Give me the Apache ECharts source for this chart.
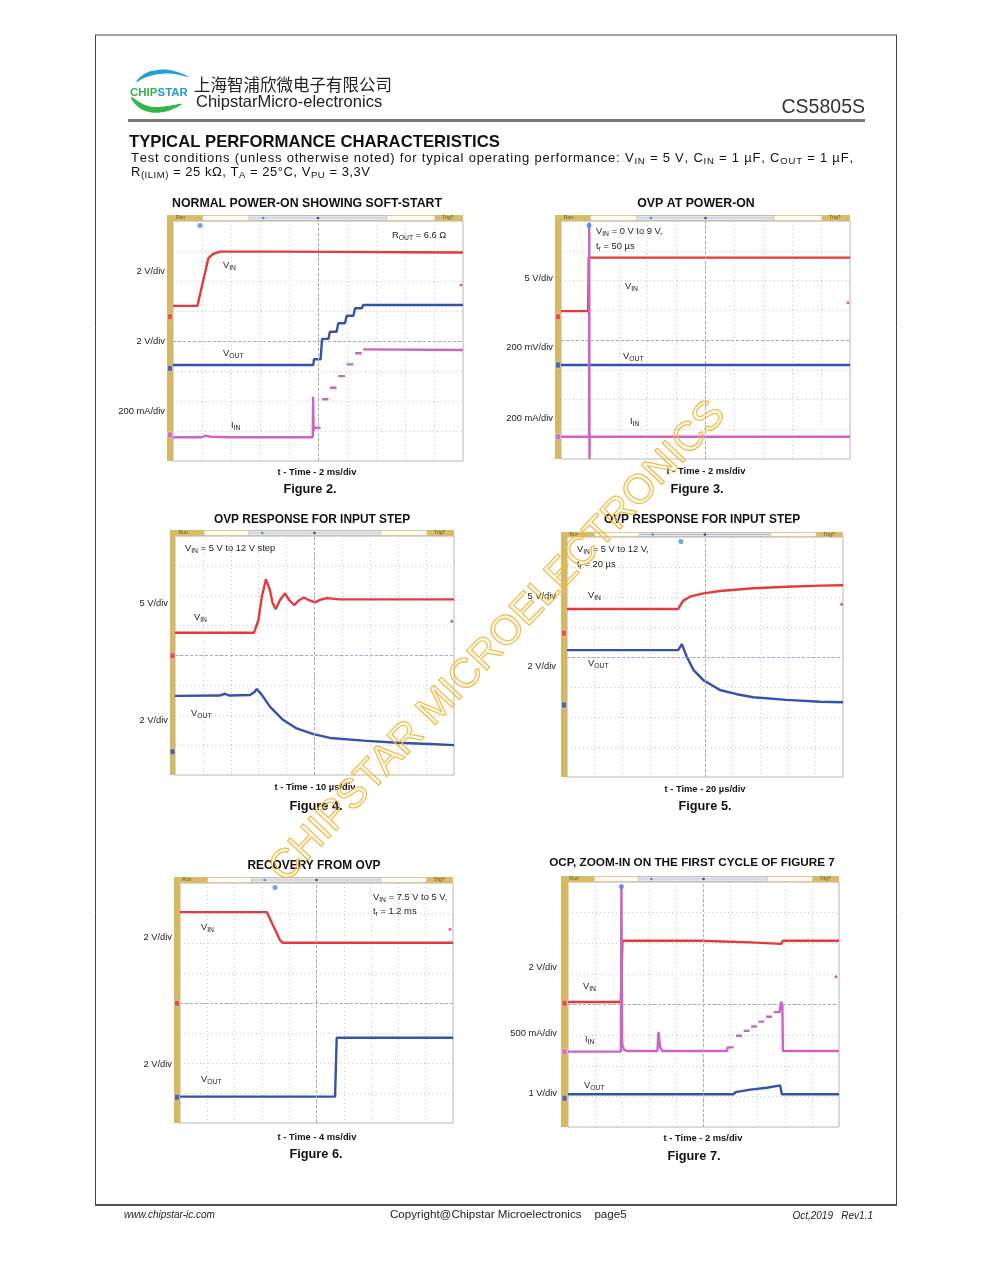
<!DOCTYPE html>
<html><head><meta charset="utf-8">
<script src="https://cdn.jsdelivr.net/npm/echarts@6/dist/echarts.min.js"></script>
<style>html,body{margin:0;padding:0;background:#fff}#c{width:991px;height:1279px}</style>
</head><body><div id="c"></div><script>
// ---------- DATA (x in time divisions 0..10, y in vertical divisions 0..8) ----------
const fig2Vin  = [[0,5.17],[0.84,5.17],[1.22,6.76],[1.38,6.9],[1.62,6.98],[3.5,6.98],[6.0,6.97],[8.0,6.96],[10,6.95]];
const fig2Vout = [[0,3.2],[4.84,3.2],[4.86,3.39],[5.09,3.39],[5.14,4.07],[5.36,4.07],[5.41,4.31],[5.64,4.31],[5.70,4.59],[5.93,4.59],[5.99,4.84],[6.22,4.84],[6.28,5.09],[6.51,5.09],[6.56,5.2],[10,5.2]];
const fig2Iin  = [[0,0.79],[1.0,0.79],[1.1,0.84],[1.3,0.81],[2.0,0.79],[4.82,0.79],[4.83,2.14],[4.85,1.0],[4.88,1.11],[5.09,1.11],[5.11,'-'],[5.14,2.06],[5.36,2.06],[5.38,'-'],[5.41,2.44],[5.64,2.44],[5.66,'-'],[5.70,2.83],[5.93,2.83],[5.95,'-'],[5.99,3.22],[6.22,3.22],[6.25,'-'],[6.28,3.59],[6.51,3.59],[6.53,'-'],[6.56,3.72],[10,3.70]];
const fig2Trig = [[9.93,5.87]];
const fig2Gnd  = [4.81,3.09,0.87];
const fig2TPos = [0.93];
const fig2Scales = ['2 V/div','2 V/div','200 mA/div'];

const fig3Vin  = [[0,4.97],[0.94,4.97],[0.96,6.77],[10,6.77]];
const fig3Vout = [[0,3.16],[10,3.16]];
const fig3Iin  = [[0,0.75],[0.97,0.75],[0.975,7.95],[0.985,0],[0.995,0.75],[10,0.75]];
const fig3Trig = [[9.93,5.25]];
const fig3Gnd  = [4.78,3.16,0.75];
const fig3TPos = [0.97];
const fig3Scales = ['5 V/div','200 mV/div','200 mA/div'];

const fig4Vin  = [[0,4.76],[2.83,4.76],[2.99,5.18],[3.11,5.96],[3.26,6.55],[3.4,6.2],[3.5,5.75],[3.61,5.55],[3.76,5.85],[3.94,6.08],[4.1,5.85],[4.27,5.69],[4.45,5.85],[4.62,5.94],[4.8,5.85],[5.02,5.78],[5.2,5.86],[5.44,5.92],[5.91,5.88],[10,5.88]];
const fig4Vout = [[0,2.65],[1.6,2.66],[1.79,2.72],[1.95,2.66],[2.69,2.68],[2.85,2.78],[2.93,2.88],[3.1,2.7],[3.41,2.28],[3.88,1.84],[4.36,1.56],[4.96,1.37],[5.56,1.24],[6.75,1.15],[7.95,1.08],[9.14,1.04],[10,1.0]];
const fig4Trig = [[9.92,5.15]];
const fig4Gnd  = [3.99,0.78];
const fig4TPos = [];
const fig4Scales = ['5 V/div','2 V/div'];

const fig5Vin  = [[0,5.6],[4.03,5.6],[4.09,5.7],[4.21,5.88],[4.46,6.01],[4.94,6.12],[5.54,6.2],[6.75,6.29],[7.96,6.34],[9.17,6.38],[10,6.39]];
const fig5Vout = [[0,4.23],[4.03,4.23],[4.16,4.43],[4.34,4.01],[4.58,3.57],[4.94,3.23],[5.54,2.9],[6.15,2.76],[6.75,2.66],[7.96,2.57],[9.17,2.51],[10,2.49]];
const fig5Trig = [[9.95,5.76]];
const fig5Gnd  = [4.79,2.4];
const fig5TPos = [4.13];
const fig5Scales = ['5 V/div','2 V/div'];

const fig6Vin  = [[0,7.03],[3.18,7.03],[3.66,6.1],[3.76,6.01],[10,6.01]];
const fig6Vout = [[0,0.88],[5.68,0.88],[5.74,2.84],[10,2.84]];
const fig6Trig = [[9.89,6.46]];
const fig6Gnd  = [3.99,0.86];
const fig6TPos = [3.48];
const fig6Scales = ['2 V/div','2 V/div'];

const fig7Vin  = [[0,4.08],[1.95,4.08],[2.01,6.08],[4.89,6.08],[6.73,6.03],[7.87,5.98],[7.93,6.08],[10,6.08]];
const fig7Iin  = [[0,2.46],[1.95,2.46],[1.97,7.9],[2.0,2.7],[2.07,2.52],[2.2,2.48],[3.30,2.48],[3.34,3.11],[3.40,2.6],[3.49,2.48],[5.87,2.48],[5.89,2.6],[6.11,2.6],[6.15,'-'],[6.20,2.98],[6.42,2.98],[6.45,'-'],[6.48,3.14],[6.70,3.14],[6.73,'-'],[6.76,3.28],[6.97,3.28],[7.0,'-'],[7.03,3.44],[7.24,3.44],[7.27,'-'],[7.31,3.60],[7.53,3.60],[7.56,'-'],[7.59,3.75],[7.81,3.75],[7.86,4.09],[7.91,4.0],[7.93,2.48],[10,2.48]];
const fig7Vout = [[0,1.07],[6.11,1.07],[6.18,1.14],[6.73,1.22],[7.34,1.28],[7.83,1.36],[7.89,1.07],[10,1.07]];
const fig7Trig = [[9.89,4.91]];
const fig7Gnd  = [4.04,2.46,0.94];
const fig7TPos = [1.97];
const fig7Scales = ['2 V/div','500 mA/div','1 V/div'];

const condLine1 = ['Test','conditions','(unless','otherwise','noted)','for','typical','operating','performance:','{m|V}{s|IN}','=','5','V,','{m|C}{s|IN}','=','1','µF,','{m|C}{s|OUT}','=','1','µF,'];
const condLine2 = ['{m|R}{s|(ILIM)}','=','25','kΩ,','{m|T}{s|A}','=','25°C,','{m|V}{s|PU}','=','3,3V'];

// ---------- STYLE / LAYOUT ----------
const RED='#e6393a', BLUE='#3254a8', PINK='#c865c6', TBLUE='#4a8fd8';
function hasFont(name){
  const c=document.createElement('canvas').getContext('2d');
  const s='abcdefghijklmnopqrstuvwxyz ABCDEFGHIJ 0123456789';
  c.font='20px monospace'; const a=c.measureText(s).width;
  c.font='20px "'+name+'", monospace'; const b=c.measureText(s).width;
  return Math.abs(a-b)>0.5;
}
const NARROW = hasFont('Liberation Sans Narrow');
const FF = NARROW ? '"Liberation Sans Narrow","Liberation Sans",Arial,sans-serif' : '"Liberation Sans",Arial,sans-serif';
const K = NARROW ? 1 : 0.85;
const BODY = '"Liberation Sans",Arial,sans-serif';

const figs = [
 {title:'NORMAL POWER-ON SHOWING SOFT-START', tSize:14.5, titleXY:[307,204], time:'t - Time - 2 ms/div', timeXY:[317,472], name:'Figure 2.', nameXY:[310,489],
  box:[167,215,463,461], plot:[173,221,463,461],
  traces:[{d:fig2Vin,c:RED},{d:fig2Vout,c:BLUE},{d:fig2Iin,c:PINK}], trig:fig2Trig, gnd:fig2Gnd, tpos:fig2TPos,
  scales:fig2Scales, scaleX:165, scaleY:[271,341,411],
  labels:[{t:'{m|V}{s|IN}',x:223,y:265},{t:'{m|V}{s|OUT}',x:223,y:353},{t:'{m|I}{s|IN}',x:231,y:425},{t:'{m|R}{s|OUT}{m| = 6.6 Ω}',x:392,y:235}]},
 {title:'OVP AT POWER-ON', tSize:14.5, titleXY:[696,204], time:'t - Time - 2 ms/div', timeXY:[706,471], name:'Figure 3.', nameXY:[697,489],
  box:[555,215,850,459], plot:[561,221,850,459],
  traces:[{d:fig3Vin,c:RED},{d:fig3Vout,c:BLUE},{d:fig3Iin,c:PINK}], trig:fig3Trig, gnd:fig3Gnd, tpos:fig3TPos,
  scales:fig3Scales, scaleX:553, scaleY:[278,347,418],
  labels:[{t:'{m|V}{s|IN}{m| = 0 V to 9 V,}',x:596,y:231},{t:'{m|t}{s|r}{m| = 50 µs}',x:596,y:246},{t:'{m|V}{s|IN}',x:625,y:286},{t:'{m|V}{s|OUT}',x:623,y:356},{t:'{m|I}{s|IN}',x:630,y:421}]},
 {title:'OVP RESPONSE FOR INPUT STEP', tSize:14, titleXY:[312,520], time:'t - Time - 10 µs/div', timeXY:[315,787], name:'Figure 4.', nameXY:[316,806],
  box:[170,530,454,775], plot:[175,536,454,775],
  traces:[{d:fig4Vin,c:RED},{d:fig4Vout,c:BLUE}], trig:fig4Trig, gnd:fig4Gnd, tpos:fig4TPos,
  scales:fig4Scales, scaleX:168, scaleY:[603,720],
  labels:[{t:'{m|V}{s|IN}{m| = 5 V to 12 V step}',x:185,y:548},{t:'{m|V}{s|IN}',x:194,y:617},{t:'{m|V}{s|OUT}',x:191,y:713}]},
 {title:'OVP RESPONSE FOR INPUT STEP', tSize:14, titleXY:[702,520], time:'t - Time - 20 µs/div', timeXY:[705,789], name:'Figure 5.', nameXY:[705,806],
  box:[561,532,843,777], plot:[567,537,843,777],
  traces:[{d:fig5Vin,c:RED},{d:fig5Vout,c:BLUE}], trig:fig5Trig, gnd:fig5Gnd, tpos:fig5TPos,
  scales:fig5Scales, scaleX:556, scaleY:[596,666],
  labels:[{t:'{m|V}{s|IN}{m| = 5 V to 12 V,}',x:577,y:549},{t:'{m|t}{s|r}{m| = 20 µs}',x:577,y:564},{t:'{m|V}{s|IN}',x:588,y:595},{t:'{m|V}{s|OUT}',x:588,y:663}]},
 {title:'RECOVERY FROM OVP', tSize:14, titleXY:[314,866], time:'t - Time - 4 ms/div', timeXY:[317,1137], name:'Figure 6.', nameXY:[316,1154],
  box:[174,877,453,1123], plot:[180,883,453,1123],
  traces:[{d:fig6Vin,c:RED},{d:fig6Vout,c:BLUE}], trig:fig6Trig, gnd:fig6Gnd, tpos:fig6TPos,
  scales:fig6Scales, scaleX:172, scaleY:[937,1064],
  labels:[{t:'{m|V}{s|IN}{m| = 7.5 V to 5 V,}',x:373,y:897},{t:'{m|t}{s|r}{m| = 1.2 ms}',x:373,y:911},{t:'{m|V}{s|IN}',x:201,y:927},{t:'{m|V}{s|OUT}',x:201,y:1079}]},
 {title:'OCP, ZOOM-IN ON THE FIRST CYCLE OF FIGURE 7', tSize:13.8, titleXY:[692,863], time:'t - Time - 2 ms/div', timeXY:[703,1138], name:'Figure 7.', nameXY:[694,1156],
  box:[561,876,839,1127], plot:[568,882,839,1127],
  traces:[{d:fig7Vin,c:RED},{d:fig7Iin,c:PINK},{d:fig7Vout,c:BLUE}], trig:fig7Trig, gnd:fig7Gnd, tpos:fig7TPos,
  scales:fig7Scales, scaleX:557, scaleY:[967,1033,1093],
  labels:[{t:'{m|V}{s|IN}',x:583,y:986},{t:'{m|I}{s|IN}',x:585,y:1039},{t:'{m|V}{s|OUT}',x:584,y:1085}]}
];

const richFig = {
  m:{fontSize:11*K, fontFamily:FF, fill:'#222', lineHeight:12},
  s:{fontSize:8*K, fontFamily:FF, fill:'#222', lineHeight:8, padding:[6,0,0,0]}
};

function chrome(f){
  const [x0,y0,x1,y1]=f.box, [px0,py0]=f.plot, w=x1-x0, th=py0-y0;
  return [
    {type:'rect', shape:{x:x0,y:y0,width:w,height:th}, style:{fill:'#d9bc68'}},
    {type:'rect', shape:{x:x0+0.12*w,y:y0+0.5,width:0.785*w,height:th-1}, style:{fill:'#fbfaf3', stroke:'#c8b88a', lineWidth:0.5}},
    {type:'rect', shape:{x:x0+0.277*w,y:y0+0.8,width:0.465*w,height:th-1.6}, style:{fill:'#f6f6f6', stroke:'#999', lineWidth:0.5}},
    {type:'line', shape:{x1:x0+0.28*w,y1:y0+th/2,x2:x0+0.74*w,y2:y0+th/2}, style:{stroke:'#a8bde0', lineWidth:1}},
    {type:'circle', shape:{cx:x0+0.325*w,cy:y0+th/2,r:1.3}, style:{fill:TBLUE}},
    {type:'circle', shape:{cx:(px0+x1)/2,cy:y0+th/2,r:1.3}, style:{fill:'#2c4f9a'}},
    {type:'text', x:x0+0.03*w, y:y0+th/2, style:{text:'Run', fontSize:5, fontFamily:BODY, fill:'#6a5520', verticalAlign:'middle'}},
    {type:'text', x:x0+0.93*w, y:y0+th/2, style:{text:'Trig?', fontSize:5, fontFamily:BODY, fill:'#6a5520', verticalAlign:'middle'}},
    {type:'rect', shape:{x:x0,y:py0,width:px0-x0,height:y1-py0}, style:{fill:'#d6b762'}}
  ];
}

const grids=[], xAxes=[], yAxes=[], series=[], G=[];
figs.forEach((f,i)=>{
  const [px0,py0,px1,py1]=f.plot;
  grids.push({left:px0, top:py0, width:px1-px0, height:py1-py0, show:true, backgroundColor:'#fff', borderColor:'#bbbbbb', borderWidth:1});
  const split={show:true, lineStyle:{color:'#c6c9d3', type:[1,3], width:1}};
  xAxes.push({type:'value', gridIndex:i, min:0, max:10, interval:1, axisLine:{show:false}, axisTick:{show:false}, axisLabel:{show:false}, splitLine:split});
  yAxes.push({type:'value', gridIndex:i, min:0, max:8, interval:1, axisLine:{show:false}, axisTick:{show:false}, axisLabel:{show:false}, splitLine:split});
  f.traces.forEach((t,j)=>{
    const s={type:'line', xAxisIndex:i, yAxisIndex:i, data:t.d, showSymbol:false, symbol:'none', animation:false,
      lineStyle:{color:t.c, width:2.4}, itemStyle:{color:t.c}, z:3, connectNulls:false};
    if(j===0) s.markLine={silent:true, symbol:'none', label:{show:false}, animation:false,
      lineStyle:{color:'#a3aecb', type:[3,2], width:1}, data:[{xAxis:5},{yAxis:4}]};
    series.push(s);
  });
  series.push({type:'scatter', xAxisIndex:i, yAxisIndex:i, data:f.trig, symbolSize:3, itemStyle:{color:RED}, z:4, animation:false, silent:true});
  const divW=(px1-px0)/10, gx=-(px0-f.box[0])/2/divW;
  series.push({type:'scatter', xAxisIndex:i, yAxisIndex:i, clip:false, symbol:'roundRect', symbolSize:[5,6], animation:false, silent:true, z:5,
    data:f.gnd.map((v,k)=>({value:[gx,v], itemStyle:{color:f.traces[k].c, borderColor:'#fff', borderWidth:0.5}}))});
  series.push({type:'scatter', xAxisIndex:i, yAxisIndex:i, clip:false, symbolSize:5, animation:false, silent:true, z:5,
    data:f.tpos.map(v=>[v,7.85]), itemStyle:{color:TBLUE}});
  G.push(...chrome(f));
  G.push({type:'text', x:f.titleXY[0], y:f.titleXY[1], style:{text:f.title, fontFamily:FF, fontWeight:'bold', fontSize:f.tSize*K, fill:'#111', align:'center', verticalAlign:'middle'}});
  G.push({type:'text', x:f.timeXY[0], y:f.timeXY[1], style:{text:f.time, fontFamily:FF, fontWeight:'bold', fontSize:11*K, fill:'#111', align:'center', verticalAlign:'middle'}});
  G.push({type:'text', x:f.nameXY[0], y:f.nameXY[1], style:{text:f.name, fontFamily:FF, fontWeight:'bold', fontSize:15*K, fill:'#111', align:'center', verticalAlign:'middle'}});
  f.scales.forEach((s,k)=>G.push({type:'text', x:f.scaleX, y:f.scaleY[k], style:{text:s, fontFamily:FF, fontSize:11*K, fill:'#222', align:'right', verticalAlign:'middle'}}));
  f.labels.forEach(l=>G.push({type:'text', x:l.x, y:l.y, z:10, style:{text:l.t, rich:richFig, fontFamily:FF, fontSize:11*K, fill:'#222', align:'left', verticalAlign:'middle'}}));
});

// page frame
G.push({type:'line', shape:{x1:95,y1:35,x2:897,y2:35}, style:{stroke:'#444', lineWidth:1}});
G.push({type:'line', shape:{x1:95.5,y1:35,x2:95.5,y2:1205}, style:{stroke:'#444', lineWidth:1}});
G.push({type:'line', shape:{x1:896.5,y1:35,x2:896.5,y2:1205}, style:{stroke:'#444', lineWidth:1}});
G.push({type:'line', shape:{x1:95,y1:1205,x2:897,y2:1205}, style:{stroke:'#555', lineWidth:2}});
// header logo
G.push({type:'polygon', shape:{smooth:0.4, points:[[136,82],[145,73.5],[158,70],[172,70.5],[189,77],[172,73.8],[158,74.2],[146,77.3]]}, style:{fill:'#1ea0d9'}});
G.push({type:'polygon', shape:{smooth:0.4, points:[[131,97],[137,106],[147,111.5],[160,112.5],[172,109.5],[182,104],[168,106],[155,107],[144,104.5]]}, style:{fill:'#36b54a'}});
G.push({type:'text', x:130, y:93, style:{text:'{g|CHIP}{b|STAR}', rich:{g:{fontSize:11.5, fontWeight:'bold', fontFamily:BODY, fill:'#39b14a'}, b:{fontSize:11.5, fontWeight:'bold', fontFamily:BODY, fill:'#1e9bd7'}}, verticalAlign:'middle'}});
G.push({type:'text', x:194, y:85, style:{text:'上海智浦欣微电子有限公司', fontFamily:'"Noto Sans CJK SC",sans-serif', fontSize:16.5, fill:'#222', verticalAlign:'middle'}});
G.push({type:'text', x:196, y:102, style:{text:'ChipstarMicro-electronics', fontFamily:BODY, fontSize:16.5, fill:'#222', verticalAlign:'middle'}});
G.push({type:'text', x:865, y:108, style:{text:'CS5805S', fontFamily:BODY, fontSize:19.5, fill:'#333', align:'right', verticalAlign:'middle'}});
G.push({type:'rect', shape:{x:128,y:119,width:737,height:3}, style:{fill:'#7a7a7a'}});
G.push({type:'text', x:129, y:142, style:{text:'TYPICAL PERFORMANCE CHARACTERISTICS', fontFamily:BODY, fontWeight:'bold', fontSize:16.7, fill:'#111', verticalAlign:'middle'}});
const M_SIZE=13, S_SIZE=9.5;
const richBody={m:{fontSize:M_SIZE, fontFamily:BODY, fill:'#111', lineHeight:13}, s:{fontSize:S_SIZE, fontFamily:BODY, fill:'#111', lineHeight:9, padding:[6,0,0,0]}};
const mctx=document.createElement('canvas').getContext('2d');
// letter-spaced line, stretched to the width the reference text occupies
function placeSpaced(tokens, x0, x1, y){
  const glyphs=[];
  tokens.forEach((t,i)=>{
    if(i>0) glyphs.push({c:' ',k:'m'});
    const parts=[...t.matchAll(/\{(m|s)\|([^}]*)\}/g)];
    const segs=parts.length?parts.map(p=>({k:p[1],s:p[2]})):[{k:'m',s:t}];
    segs.forEach(sg=>{ for(const ch of sg.s) glyphs.push({c:ch,k:sg.k}); });
  });
  glyphs.forEach(g=>{ mctx.font=(g.k==='m'?M_SIZE:S_SIZE)+'px "Liberation Sans"'; g.w=mctx.measureText(g.c).width; });
  const tot=glyphs.reduce((a,g)=>a+g.w,0), ls=(x1-x0-tot)/(glyphs.length-1);
  let x=x0;
  glyphs.forEach(g=>{
    if(g.c!==' ') G.push({type:'text', x:x, y:y, style:{text:'{'+g.k+'|'+g.c+'}', rich:richBody, verticalAlign:'middle'}});
    x+=g.w+ls;
  });
}
placeSpaced(condLine1,131,853,158.5);
placeSpaced(condLine2,131,370,172.5);
// footer
G.push({type:'text', x:124, y:1215, style:{text:'www.chipstar-ic.com', fontFamily:BODY, fontStyle:'italic', fontSize:10, fill:'#222', verticalAlign:'middle'}});
G.push({type:'text', x:390, y:1215, style:{text:'Copyright@Chipstar Microelectronics    page5', fontFamily:BODY, fontSize:11.6, fill:'#222', verticalAlign:'middle'}});
G.push({type:'text', x:873, y:1216, style:{text:'Oct,2019   Rev1.1', fontFamily:BODY, fontStyle:'italic', fontSize:10, fill:'#222', align:'right', verticalAlign:'middle'}});
// watermark
G.push({type:'text', x:498, y:642, rotation:0.815, z:100, silent:true, style:{text:'CHIPSTAR MICROELECTRONICS', fontFamily:BODY, fontSize:41, fill:'rgba(0,0,0,0)', stroke:'#f6b838', lineWidth:1.2, align:'center', verticalAlign:'middle'}});

const chart = echarts.init(document.getElementById('c'), null, {renderer:'canvas', width:991, height:1279});
chart.setOption({animation:false, backgroundColor:'#fff', grid:grids, xAxis:xAxes, yAxis:yAxes, series:series, graphic:{elements:G}});
</script></body></html>
